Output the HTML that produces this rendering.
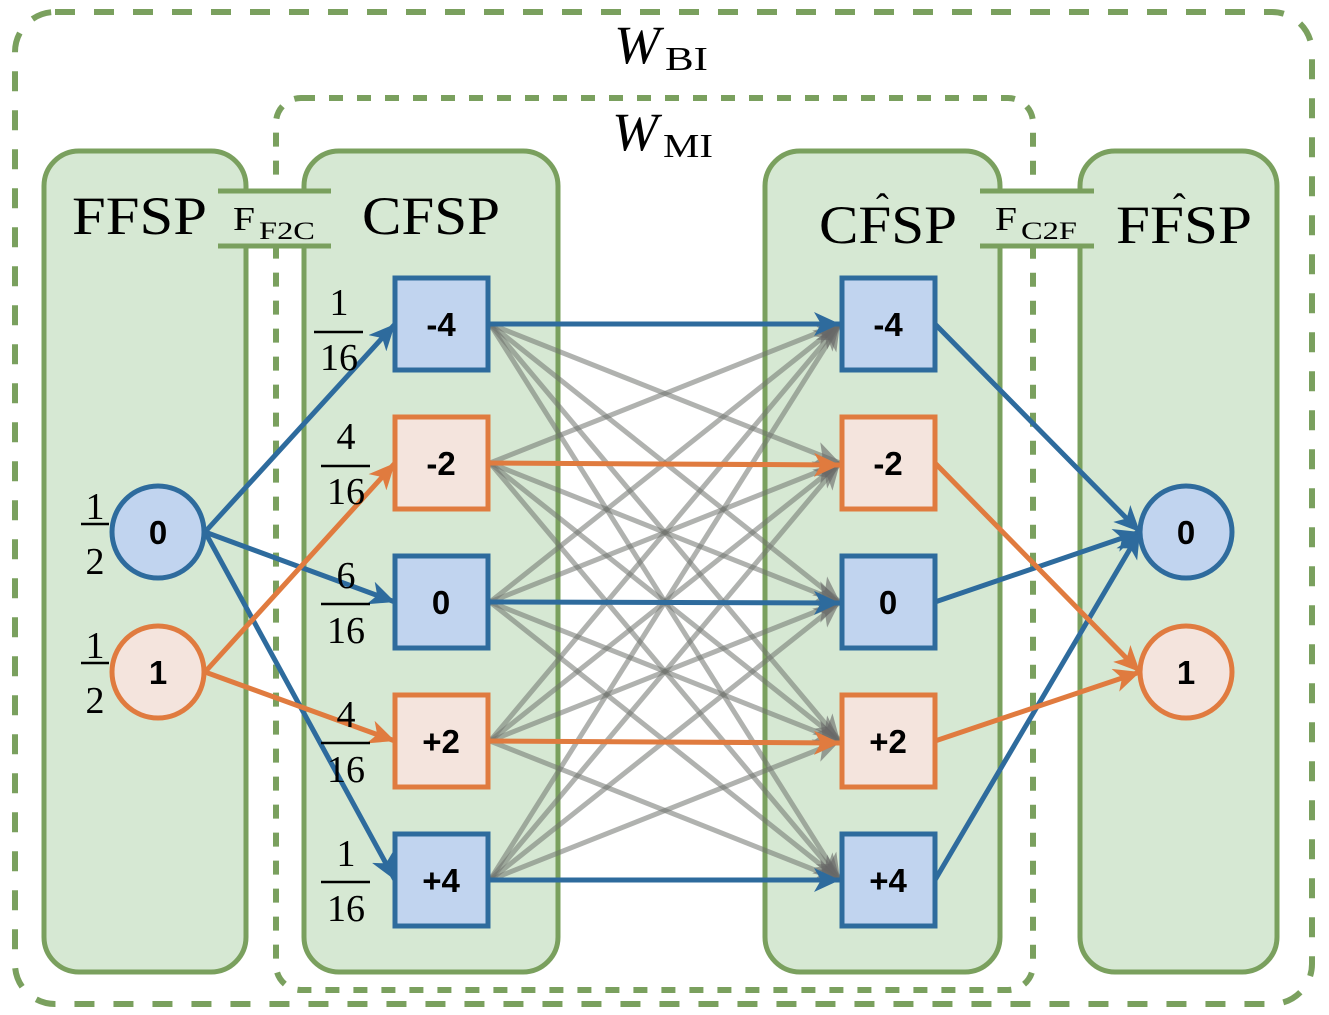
<!DOCTYPE html>
<html><head><meta charset="utf-8"><style>
html,body{margin:0;padding:0;background:#fff}
svg{display:block}
.s{font-family:"Liberation Serif",serif;fill:#000}
.b{font-family:"Liberation Sans",sans-serif;font-weight:bold;font-size:33px;fill:#000;text-anchor:middle}
</style></head><body>
<svg width="1329" height="1015" viewBox="0 0 1329 1015" xmlns="http://www.w3.org/2000/svg">
<defs>
<marker id="ab" markerUnits="userSpaceOnUse" markerWidth="28" markerHeight="24" refX="26" refY="12" orient="auto"><path d="M0,0 L26,12 L0,24 L7,12 Z" fill="#2e6b9d"/></marker>
<marker id="ao" markerUnits="userSpaceOnUse" markerWidth="28" markerHeight="24" refX="26" refY="12" orient="auto"><path d="M0,0 L26,12 L0,24 L7,12 Z" fill="#e07b3f"/></marker>
<marker id="ag" markerUnits="userSpaceOnUse" markerWidth="28" markerHeight="24" refX="26" refY="12" orient="auto"><path d="M0,0 L26,12 L0,24 L7,12 Z" fill="#666" fill-opacity="0.6"/></marker>
</defs>
<rect x="15" y="12" width="1297" height="992" rx="40" fill="none" stroke="#7aa05e" stroke-width="6" stroke-dasharray="20 19"/>
<rect x="276" y="98" width="757" height="892" rx="25" fill="none" stroke="#7aa05e" stroke-width="6" stroke-dasharray="14 14"/>
<g fill="#d6e8d3" stroke="#7aa05e" stroke-width="5">
<rect x="44" y="151" width="202" height="821" rx="35"/>
<rect x="304" y="151" width="254" height="821" rx="35"/>
<rect x="765" y="151" width="235" height="821" rx="35"/>
<rect x="1080" y="151" width="197" height="821" rx="35"/>
</g>
<rect x="218" y="191" width="113" height="55" fill="#d6e8d3"/>
<rect x="980" y="191" width="114" height="55" fill="#d6e8d3"/>
<g stroke="#7aa05e" stroke-width="5">
<line x1="218" y1="191" x2="331" y2="191"/><line x1="218" y1="246" x2="331" y2="246"/>
<line x1="980" y1="191" x2="1094" y2="191"/><line x1="980" y1="246" x2="1094" y2="246"/>
</g>
<text class="s" x="614" y="63" font-size="54" font-style="italic" textLength="46" lengthAdjust="spacingAndGlyphs">W</text><text class="s" x="665" y="70" font-size="34" textLength="43" lengthAdjust="spacingAndGlyphs">BI</text>
<text class="s" x="612" y="150" font-size="54" font-style="italic" textLength="46" lengthAdjust="spacingAndGlyphs">W</text><text class="s" x="663" y="157" font-size="34" textLength="50" lengthAdjust="spacingAndGlyphs">MI</text>
<text class="s" x="72" y="234" font-size="54" textLength="135" lengthAdjust="spacingAndGlyphs">FFSP</text>
<text class="s" x="362" y="234" font-size="54" textLength="138" lengthAdjust="spacingAndGlyphs">CFSP</text>
<text class="s" x="233" y="230" font-size="34" textLength="22" lengthAdjust="spacingAndGlyphs">F</text><text class="s" x="259" y="239" font-size="25" textLength="56" lengthAdjust="spacingAndGlyphs">F2C</text>
<text class="s" x="995" y="230" font-size="34" textLength="22" lengthAdjust="spacingAndGlyphs">F</text><text class="s" x="1021" y="239" font-size="25" textLength="56" lengthAdjust="spacingAndGlyphs">C2F</text>
<text class="s" x="819" y="243" font-size="54" textLength="138" lengthAdjust="spacingAndGlyphs">CFSP</text><text class="s" x="876" y="220" font-size="38">ˆ</text>
<text class="s" x="1116" y="243" font-size="54" textLength="136" lengthAdjust="spacingAndGlyphs">FFSP</text><text class="s" x="1173" y="220" font-size="38">ˆ</text>
<g stroke="#6f726d" stroke-opacity="0.55" stroke-width="5" marker-end="url(#ag)">
<line x1="490" y1="324" x2="840" y2="463"/><line x1="490" y1="324" x2="840" y2="602"/><line x1="490" y1="324" x2="840" y2="741"/><line x1="490" y1="324" x2="840" y2="880"/>
<line x1="490" y1="463" x2="840" y2="324"/><line x1="490" y1="463" x2="840" y2="602"/><line x1="490" y1="463" x2="840" y2="741"/><line x1="490" y1="463" x2="840" y2="880"/>
<line x1="490" y1="602" x2="840" y2="324"/><line x1="490" y1="602" x2="840" y2="463"/><line x1="490" y1="602" x2="840" y2="741"/><line x1="490" y1="602" x2="840" y2="880"/>
<line x1="490" y1="741" x2="840" y2="324"/><line x1="490" y1="741" x2="840" y2="463"/><line x1="490" y1="741" x2="840" y2="602"/><line x1="490" y1="741" x2="840" y2="880"/>
<line x1="490" y1="880" x2="840" y2="324"/><line x1="490" y1="880" x2="840" y2="463"/><line x1="490" y1="880" x2="840" y2="602"/><line x1="490" y1="880" x2="840" y2="741"/>
</g>
<g stroke-width="5" fill="none">
<line x1="205" y1="532" x2="395" y2="324" stroke="#2e6b9d" marker-end="url(#ab)"/>
<line x1="205" y1="532" x2="395" y2="602" stroke="#2e6b9d" marker-end="url(#ab)"/>
<line x1="205" y1="532" x2="395" y2="880" stroke="#2e6b9d" marker-end="url(#ab)"/>
<line x1="205" y1="672" x2="395" y2="463" stroke="#e07b3f" marker-end="url(#ao)"/>
<line x1="205" y1="672" x2="395" y2="741" stroke="#e07b3f" marker-end="url(#ao)"/>
<line x1="488" y1="324" x2="840" y2="324" stroke="#2e6b9d" marker-end="url(#ab)"/>
<line x1="488" y1="463" x2="840" y2="465" stroke="#e07b3f" marker-end="url(#ao)"/>
<line x1="488" y1="602" x2="840" y2="603" stroke="#2e6b9d" marker-end="url(#ab)"/>
<line x1="488" y1="741" x2="840" y2="743" stroke="#e07b3f" marker-end="url(#ao)"/>
<line x1="488" y1="880" x2="840" y2="880" stroke="#2e6b9d" marker-end="url(#ab)"/>
<line x1="935" y1="324" x2="1140" y2="532" stroke="#2e6b9d" marker-end="url(#ab)"/>
<line x1="935" y1="602" x2="1140" y2="532" stroke="#2e6b9d" marker-end="url(#ab)"/>
<line x1="935" y1="880" x2="1140" y2="532" stroke="#2e6b9d" marker-end="url(#ab)"/>
<line x1="935" y1="463" x2="1140" y2="672" stroke="#e07b3f" marker-end="url(#ao)"/>
<line x1="935" y1="741" x2="1140" y2="672" stroke="#e07b3f" marker-end="url(#ao)"/>
</g>
<g stroke-width="5">
<circle cx="158" cy="532" r="46" fill="#c1d4ef" stroke="#2e6b9d"/>
<circle cx="158" cy="672" r="46" fill="#f4e4dd" stroke="#e07b3f"/>
<circle cx="1186" cy="532" r="46" fill="#c1d4ef" stroke="#2e6b9d"/>
<circle cx="1186" cy="672" r="46" fill="#f4e4dd" stroke="#e07b3f"/>
<rect x="395" y="278" width="93" height="92" fill="#c1d4ef" stroke="#2e6b9d"/>
<rect x="395" y="417" width="93" height="92" fill="#f4e4dd" stroke="#e07b3f"/>
<rect x="395" y="556" width="93" height="92" fill="#c1d4ef" stroke="#2e6b9d"/>
<rect x="395" y="695" width="93" height="92" fill="#f4e4dd" stroke="#e07b3f"/>
<rect x="395" y="834" width="93" height="92" fill="#c1d4ef" stroke="#2e6b9d"/>
<rect x="842" y="278" width="93" height="92" fill="#c1d4ef" stroke="#2e6b9d"/>
<rect x="842" y="417" width="93" height="92" fill="#f4e4dd" stroke="#e07b3f"/>
<rect x="842" y="556" width="93" height="92" fill="#c1d4ef" stroke="#2e6b9d"/>
<rect x="842" y="695" width="93" height="92" fill="#f4e4dd" stroke="#e07b3f"/>
<rect x="842" y="834" width="93" height="92" fill="#c1d4ef" stroke="#2e6b9d"/>
</g>
<g>
<text x="158" y="544" class="b">0</text><text x="158" y="684" class="b">1</text>
<text x="1186" y="544" class="b">0</text><text x="1186" y="684" class="b">1</text>
<text x="441" y="336" class="b">-4</text><text x="441" y="475" class="b">-2</text><text x="441" y="614" class="b">0</text><text x="441" y="753" class="b">+2</text><text x="441" y="892" class="b">+4</text>
<text x="888" y="336" class="b">-4</text><text x="888" y="475" class="b">-2</text><text x="888" y="614" class="b">0</text><text x="888" y="753" class="b">+2</text><text x="888" y="892" class="b">+4</text>
</g>
<g class="s" font-size="38" text-anchor="middle">
<text x="95" y="519">1</text><text x="95" y="574">2</text>
<text x="95" y="658">1</text><text x="95" y="713">2</text>
<text x="339" y="315">1</text><text x="339" y="370">16</text>
<text x="346" y="449">4</text><text x="346" y="504">16</text>
<text x="346" y="588">6</text><text x="346" y="643">16</text>
<text x="346" y="727">4</text><text x="346" y="782">16</text>
<text x="346" y="866">1</text><text x="346" y="921">16</text>
</g>
<g stroke="#000" stroke-width="2.5">
<line x1="81" y1="524" x2="109" y2="524"/><line x1="81" y1="663" x2="109" y2="663"/>
<line x1="314" y1="332" x2="363" y2="332"/>
<line x1="321" y1="466" x2="370" y2="466"/><line x1="321" y1="604" x2="370" y2="604"/>
<line x1="321" y1="743" x2="370" y2="743"/><line x1="321" y1="882" x2="370" y2="882"/>
</g>
</svg>
</body></html>
